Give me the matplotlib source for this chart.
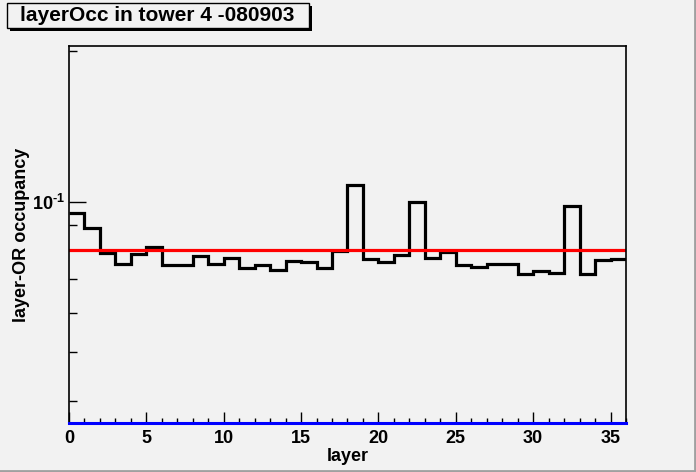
import numpy as np
import matplotlib
matplotlib.use("Agg")
import matplotlib.pyplot as plt
from matplotlib.patches import Rectangle
from matplotlib.lines import Line2D

plt.rcParams['font.family'] = ['Liberation Sans', 'DejaVu Sans']
plt.rcParams['mathtext.fontset'] = 'custom'
plt.rcParams['mathtext.bf'] = 'Liberation Sans:bold'
plt.rcParams['mathtext.rm'] = 'Liberation Sans:bold'

# layer-OR occupancy per layer (36 layers)
layers = np.arange(37)
occupancy = [0.0951, 0.0887, 0.0789, 0.0750, 0.0785, 0.0811, 0.0748, 0.0748,
             0.0780, 0.0751, 0.0773, 0.0738, 0.0747, 0.0732, 0.0761, 0.0758,
             0.0736, 0.0797, 0.1080, 0.0768, 0.0757, 0.0783, 0.0999, 0.0771,
             0.0793, 0.0746, 0.0740, 0.0750, 0.0750, 0.0716, 0.0728, 0.0722,
             0.0980, 0.0718, 0.0766, 0.0768]
mean_level = 0.0801
low_level = 0.0361

bg = '#f2f2f2'
fig = plt.figure(figsize=(6.96, 4.72), dpi=100, facecolor=bg)
ax = fig.add_axes([0.0991, 0.1038, 0.8003, 0.7987])
ax.set_facecolor(bg)

ax.stairs(occupancy, layers, color='black', linewidth=2.3, baseline=None)
ax.axhline(mean_level, color='#ff0000', linewidth=2.3)
ax.axhline(low_level, color='#0000ff', linewidth=2.2, clip_on=False, zorder=3)

ax.set_yscale('log')
ax.set_xlim(0, 36)
ax.set_ylim(low_level, 0.205)

ax.set_xticks(np.arange(0, 36, 5))
ax.set_xticks(np.arange(0, 37, 1), minor=True)
ax.set_xticklabels([str(v) for v in range(0, 36, 5)], fontsize=13, fontweight='bold')
ax.set_yticks([0.1])
ax.set_yticklabels(['$\\mathbf{10^{\u20101}}$'], fontsize=13)
ax.set_yticks([0.04, 0.05, 0.06, 0.07, 0.08, 0.09, 0.2], minor=True)
ax.yaxis.set_minor_formatter(matplotlib.ticker.NullFormatter())

ax.tick_params(axis='x', which='major', direction='in', length=8, width=1, pad=5)
ax.tick_params(axis='x', which='minor', direction='in', length=3.6, width=1)
ax.tick_params(axis='y', which='major', direction='in', length=12, width=1, pad=3)
ax.tick_params(axis='y', which='minor', direction='in', length=5.8, width=1)
ax.tick_params(top=False, right=False)

for s in ax.spines.values():
    s.set_linewidth(1.2)

ax.set_xlabel('layer', fontsize=13, fontweight='bold', labelpad=1)
ax.set_ylabel('layer-OR occupancy', fontsize=13, fontweight='bold')
ax.yaxis.set_label_coords(-0.07, 0.5)

# title box with shadow (ROOT style)
W, H = 696.0, 472.0
fig.patches.append(Rectangle((10 / W, 1 - 31 / H), 302 / W, 25 / H,
                             transform=fig.transFigure, facecolor='black',
                             edgecolor='none'))
fig.patches.append(Rectangle((7 / W, 1 - 28 / H), 302 / W, 25 / H,
                             transform=fig.transFigure, facecolor=bg,
                             edgecolor='black', linewidth=1))
fig.text(157 / W, 1 - 15.5 / H, 'layerOcc in tower 4 -080903', fontsize=15,
         fontweight='bold', ha='center', va='center')

# canvas bevel
fig.lines.append(Line2D([1 - 1.5 / W, 1 - 1.5 / W], [0, 1], transform=fig.transFigure,
                        color='#a0a0a0', linewidth=2))
fig.lines.append(Line2D([0, 1], [1.5 / H, 1.5 / H], transform=fig.transFigure,
                        color='#a0a0a0', linewidth=2))

fig.savefig('out.png', dpi=100, facecolor=bg)
